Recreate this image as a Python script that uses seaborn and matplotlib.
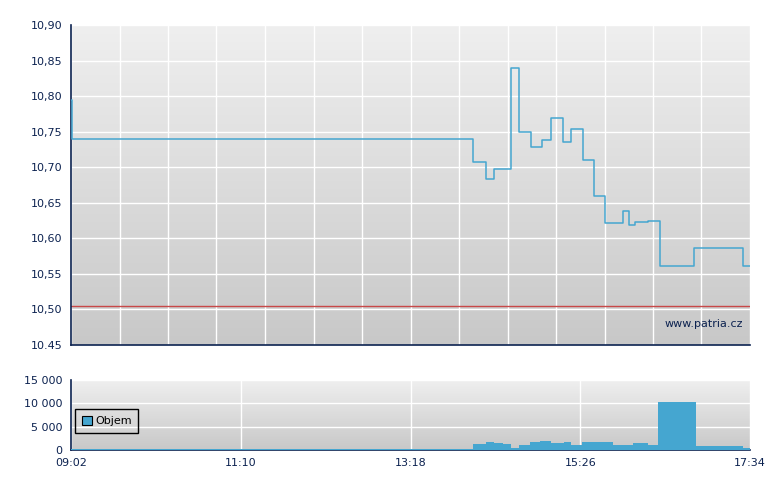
import numpy as np
import pandas as pd
import matplotlib
matplotlib.use("Agg")
import matplotlib.pyplot as plt
import seaborn as sns
from matplotlib.colors import LinearSegmentedColormap
from matplotlib.patches import Patch

# data
price_times = ["09:02", "09:03", "14:05", "14:15", "14:21", "14:28", "14:34", "14:40",
               "14:49", "14:57", "15:04", "15:13", "15:19", "15:28", "15:36", "15:45",
               "15:58", "16:03", "16:07", "16:17", "16:26", "16:52", "17:29"]
price_vals = [10.795, 10.74, 10.708, 10.684, 10.697, 10.698, 10.840, 10.750,
              10.729, 10.738, 10.769, 10.735, 10.754, 10.710, 10.660, 10.621,
              10.639, 10.619, 10.623, 10.625, 10.561, 10.587, 10.561]
ref_price = 10.505

vol_times = ["09:02", "10:00", "10:30", "11:30", "12:30", "13:10", "14:05", "14:15",
             "14:21", "14:28", "14:34", "14:40", "14:48", "14:56", "15:04", "15:14",
             "15:19", "15:27", "15:51", "16:06", "16:17", "16:25", "16:53", "17:29"]
vol_vals = [150, 120, 160, 140, 130, 150, 1200, 1700,
            1450, 1200, 450, 1000, 1700, 1950, 1500, 1700,
            1000, 1700, 1000, 1500, 1000, 10250, 800, 350]

t_start, t_end = "09:02", "17:34"
price_ticks = [10.45, 10.50, 10.55, 10.60, 10.65, 10.70, 10.75, 10.80, 10.85, 10.90]
price_ticklabels = ["10.45", "10,50", "10,55", "10,60", "10,65", "10,70", "10,75", "10,80", "10,85", "10,90"]
vol_ticks = [0, 5000, 10000, 15000]
vol_ticklabels = ["0", "5 000", "10 000", "15 000"]
time_ticklabels = ["09:02", "11:10", "13:18", "15:26", "17:34"]


def to_min(s):
    h, m = s.split(":")
    return int(h) * 60 + int(m)


sns.set_style("white")
plt.rcParams["font.family"] = ["DejaVu Sans"]

navy = "#0c2250"
line_col = "#45a6d0"
bg_cmap = LinearSegmentedColormap.from_list("bg", ["#c8c8c8", "#efefef"])

x0, x1 = to_min(t_start), to_min(t_end)
df_p = pd.DataFrame({"t": [to_min(s) for s in price_times] + [x1],
                     "price": price_vals + [price_vals[-1]]})
edges = [to_min(s) for s in vol_times] + [x1]
df_v = pd.DataFrame({"t": [to_min(s) for s in vol_times], "vol": vol_vals})

fig = plt.figure(figsize=(7.8, 4.9), dpi=100)
ax = fig.add_axes([71 / 780, 1 - 345 / 490, 679 / 780, 320 / 490])
axv = fig.add_axes([71 / 780, 1 - 450 / 490, 679 / 780, 70 / 490])

for a, (ylo, yhi) in [(ax, (10.45, 10.90)), (axv, (0, 15000))]:
    a.imshow(np.linspace(0, 1, 256).reshape(-1, 1), cmap=bg_cmap, origin="lower",
             extent=[x0, x1, ylo, yhi], aspect="auto", zorder=0)
    a.set_xlim(x0, x1)
    a.set_ylim(ylo, yhi)
    a.set_axisbelow(True)
    for s in ["top", "right"]:
        a.spines[s].set_visible(False)
    for s in ["left", "bottom"]:
        a.spines[s].set_color(navy)
        a.spines[s].set_linewidth(1.2)
    a.tick_params(colors=navy, labelcolor=navy, labelsize=8, direction="out",
                  length=4, width=1, pad=2)

# price panel
ax.axhline(ref_price, color="#c84848", lw=1, zorder=2)
sns.lineplot(data=df_p, x="t", y="price", ax=ax, color=line_col, lw=1.1,
             drawstyle="steps-post", estimator=None, sort=False, zorder=3)
main_ticks = np.linspace(x0, x1, 15)
ax.set_xticks(main_ticks)
ax.set_xticklabels([])
ax.set_yticks(price_ticks)
ax.set_yticklabels(price_ticklabels)
ax.grid(True, color="white", lw=1.0)
ax.set_xlabel("")
ax.set_ylabel("")
ax.text(0.99, 0.065, "www.patria.cz", transform=ax.transAxes, ha="right", va="center",
        color=navy, fontsize=8)

# volume panel
sns.histplot(data=df_v, x="t", weights="vol", bins=edges, ax=axv, color=line_col,
             alpha=1, linewidth=0, zorder=3)
axv.set_xlim(x0, x1)
axv.set_ylim(0, 15000)
axv.set_xticks(np.linspace(x0, x1, 5))
axv.set_xticklabels(time_ticklabels)
axv.set_yticks(vol_ticks)
axv.set_yticklabels(vol_ticklabels)
axv.grid(True, color="white", lw=1.0)
axv.set_xlabel("")
axv.set_ylabel("")
leg = axv.legend(handles=[Patch(facecolor=line_col, edgecolor="black", lw=0.8, label="Objem")],
                 loc="lower left", bbox_to_anchor=(0.006, 0.243), borderaxespad=0,
                 fancybox=False, framealpha=1, facecolor="none", edgecolor="black",
                 fontsize=8, handlelength=0.9, handleheight=0.9, handletextpad=0.3,
                 borderpad=0.6)
leg.get_frame().set_linewidth(1)
for t in leg.get_texts():
    t.set_color("black")

fig.savefig("out.png", dpi=100)
